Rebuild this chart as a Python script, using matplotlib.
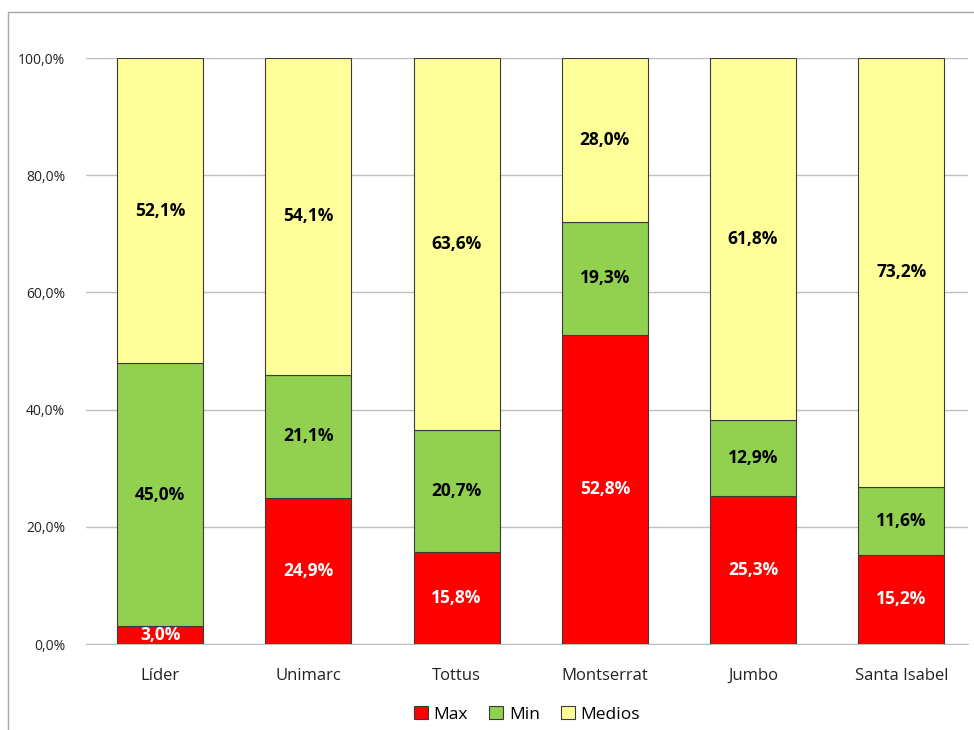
import numpy as np
import matplotlib
matplotlib.use('Agg')
import matplotlib.pyplot as plt
from matplotlib.patches import Rectangle
from matplotlib.ticker import FuncFormatter

# Data
tiendas = ['Líder', 'Unimarc', 'Tottus', 'Montserrat', 'Jumbo', 'Santa Isabel']
max_vals = [3.0, 24.9, 15.8, 52.8, 25.3, 15.2]
min_vals = [45.0, 21.1, 20.7, 19.3, 12.9, 11.6]
medios_vals = [52.1, 54.1, 63.6, 28.0, 61.8, 73.2]

series = [('Max', max_vals, '#FF0000', 'white'),
          ('Min', min_vals, '#92D050', 'black'),
          ('Medios', medios_vals, '#FFFF99', 'black')]

plt.rcParams['font.family'] = ['Open Sans', 'DejaVu Sans']

fig = plt.figure(figsize=(9.74, 7.3), dpi=100)
ax = fig.add_axes([86/974, 1-644/730, 882/974, 586/730])

x = np.arange(len(tiendas))
totals = np.array(max_vals) + np.array(min_vals) + np.array(medios_vals)
bottom = np.zeros(len(tiendas))
for name, vals, color, tcolor in series:
    vals = np.array(vals)
    h = vals / totals * 100
    ax.bar(x, h, 0.58, bottom=bottom, color=color, edgecolor='#3a3a3a',
           linewidth=0.8, label=name, zorder=3)
    for xi, b, hi, v in zip(x, bottom, h, vals):
        ax.text(xi, b + hi/2, ('%.1f%%' % v).replace('.', ','), ha='center', va='center',
                color=tcolor, fontsize=12.5, fontweight='bold', zorder=4)
    bottom += h

ax.set_ylim(0, 100)
ax.set_xlim(-0.5, 5.45)
ax.set_yticks(np.arange(0, 101, 20))
ax.yaxis.set_major_formatter(FuncFormatter(lambda v, p: ('%.1f%%' % v).replace('.', ',')))
ax.grid(axis='y', color='#BFBFBF', linewidth=1, zorder=0)
for s in ['top', 'right', 'left']:
    ax.spines[s].set_visible(False)
ax.spines['bottom'].set_color('#BFBFBF')
ax.set_xticks(x)
ax.set_xticklabels(tiendas, fontsize=12, color='#222222')
ax.tick_params(axis='y', length=0, pad=15, labelsize=10, colors='#222222')
ax.tick_params(axis='x', length=0, pad=17)

ax.legend(loc='upper center', bbox_to_anchor=(0.5, -0.079), ncol=3, frameon=False,
          fontsize=12.5, handlelength=0.8, handleheight=0.8, handletextpad=0.35,
          columnspacing=1.2)

fig.patches.append(Rectangle((8/974, -0.01), 1.0, 1 - 12/730 + 0.01,
                             transform=fig.transFigure, fill=False,
                             edgecolor='#A6A6A6', linewidth=1))

fig.savefig('out.png', dpi=100)
